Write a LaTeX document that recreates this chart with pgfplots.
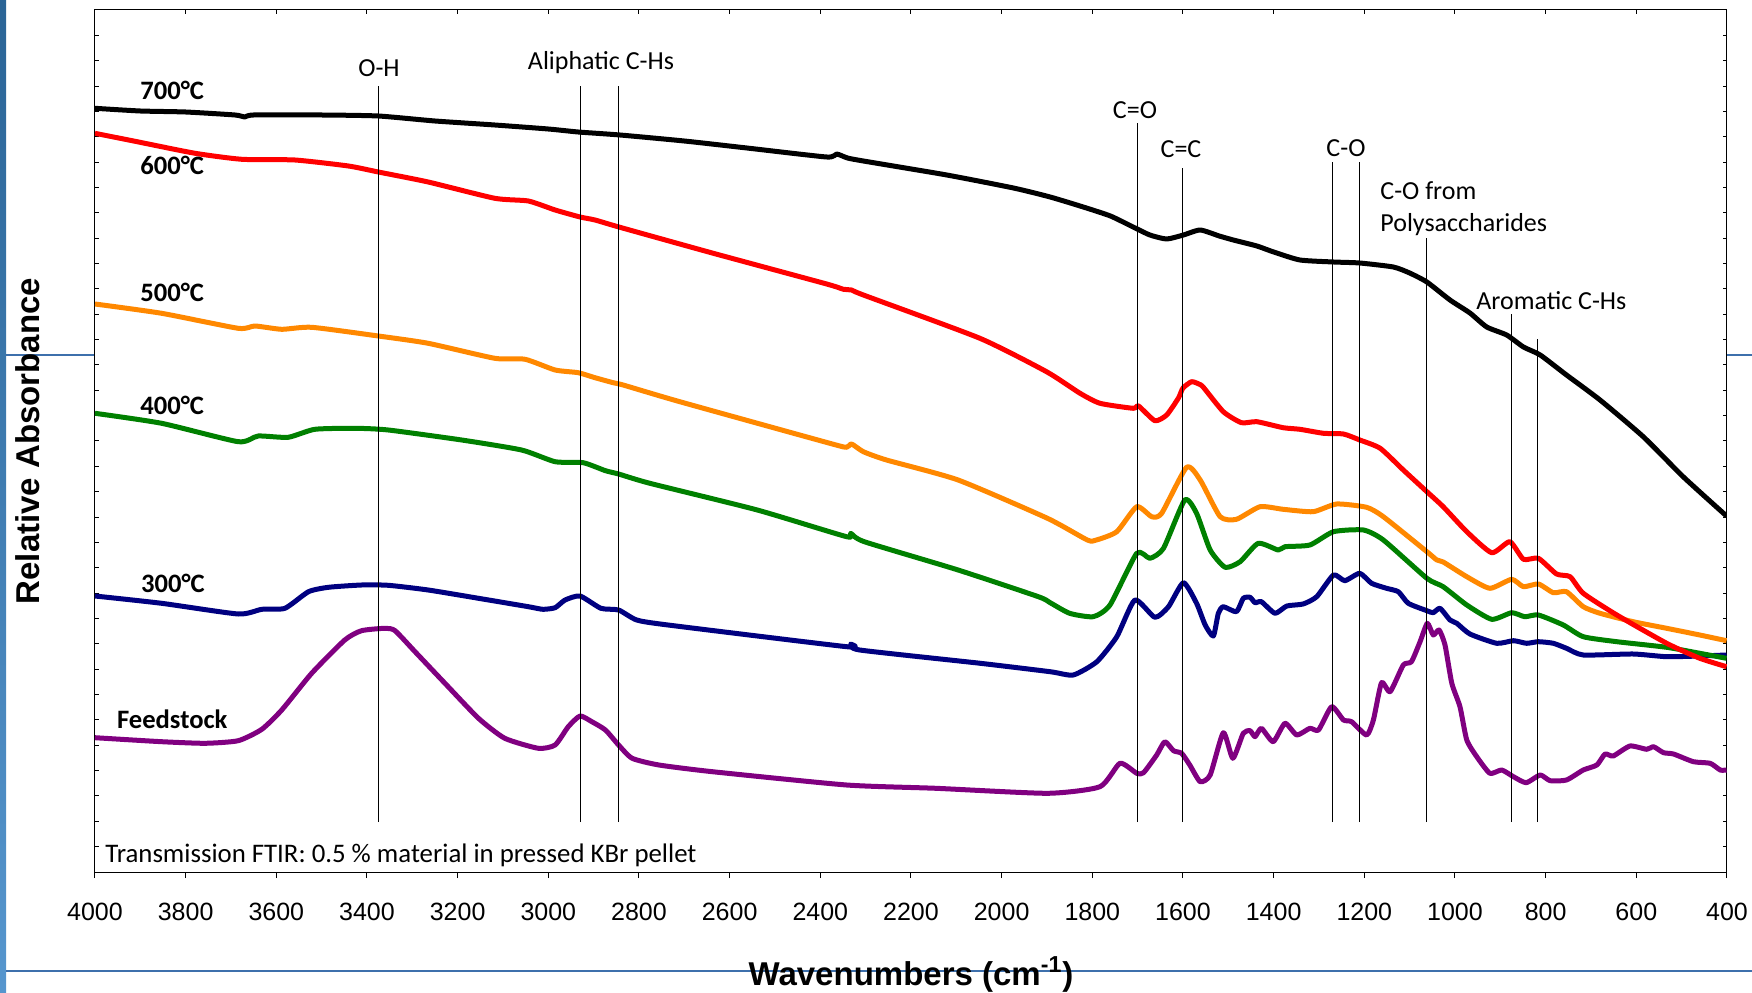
\documentclass[border=0pt]{standalone}
\usepackage{pgfplots}
\pgfplotsset{compat=1.18}
\usepackage{fontspec}
\setmainfont{Carlito}
\newfontfamily\arial{Liberation Sans}
\definecolor{slideblue}{RGB}{62,112,172}
\definecolor{barTop}{RGB}{42,100,150}
\definecolor{barBot}{RGB}{86,150,206}
\definecolor{c700}{RGB}{0,0,0}
\definecolor{c600}{RGB}{255,0,0}
\definecolor{c500}{RGB}{255,136,0}
\definecolor{c400}{RGB}{0,128,0}
\definecolor{c300}{RGB}{0,0,128}
\definecolor{cfeed}{RGB}{128,0,128}
\begin{document}
\begin{tikzpicture}
\useasboundingbox (0,0) rectangle (876pt,496pt);
% slide decoration (pixel coordinates)
\begin{scope}[x=0.5pt,y=-0.5pt,shift={(0pt,496pt)}]
  \shade[top color=barTop, bottom color=barBot] (0,0) rectangle (6,992);
  \draw[slideblue, line width=0.6pt] (6,355) -- (95,355);
  \draw[slideblue, line width=0.6pt] (1727,355) -- (1752,355);
  \draw[slideblue, line width=0.6pt] (6,971) -- (1752,971);
\end{scope}

% tick overlay axis (top x ticks and y ticks, inside)
\begin{axis}[at={(47.5pt,60pt)}, anchor=south west, width=816pt, height=431pt, scale only axis,
  xmin=400, xmax=4000, x dir=reverse, ymin=0, ymax=862,
  axis line style={draw=none},
  xtick={400,600,...,4000}, xtick pos=top, xticklabels={},
  ytick={0,25.353,...,863}, yticklabels={}, ytick pos=both,
  tick align=inside, major tick length=2pt, tick style={black, line width=0.5pt}]
\end{axis}

\begin{axis}[at={(47.5pt,60pt)}, anchor=south west, width=816pt, height=431pt, scale only axis,
  xmin=400, xmax=4000, x dir=reverse, ymin=0, ymax=862,
  axis line style={black, line width=0.5pt},
  xtick={400,600,...,4000}, xtick pos=bottom, ytick=\empty,
  tick align=outside, major tick length=3pt, tick style={black, line width=0.5pt},
  /pgf/number format/assume math mode=true,
  /pgf/number format/1000 sep={},
  xticklabel style={font=\arial\fontsize{12.5}{14}\selectfont, anchor=north, inner sep=0pt, text height=9pt, text depth=0pt, yshift=-12pt},
  xlabel={\textbf{Wavenumbers (cm\textsuperscript{-1})}},
  xlabel style={font=\arial\fontsize{16.5}{19}\selectfont, at={(axis description cs:0.5,-0.1311)}, anchor=base},
  ylabel={\textbf{Relative Absorbance}},
  ylabel style={font=\arial\fontsize{16.5}{19}\selectfont, at={(axis description cs:-0.0414,0.5)}, anchor=center, rotate=0},
  spec/.style={line width=2.5pt, line join=round, smooth, tension=0.35},
]
% Feedstock
\addplot[cfeed, spec] coordinates {
(4000,134.3) (3853,130.3) (3757,128.7) (3684,131.3) (3632,142.7) (3588,162) (3522,198.7)
(3449,232) (3412,241.3) (3360,243.7) (3338,241.3) (3294,220.3) (3228,188.7) (3154,153.7)
(3096,133.7) (3022,123.7) (2985,127) (2956,145.3) (2930,156) (2904,150.3) (2874,142)
(2845,127) (2815,113.7) (2756,107) (2638,100.3) (2342,87) (2145,83.7) (1899,78.7)
(1783,85.3) (1739,108.7) (1702,98.7) (1687,99.3) (1658,117) (1640,130.3) (1621,121.3)
(1603,118.7) (1585,107) (1562,90.3) (1540,97) (1511,139.3) (1490,113.7) (1467,138.7)
(1452,141.3) (1441,135.3) (1427,143.7) (1401,130.3) (1375,148.7) (1349,137) (1320,143.7)
(1301,142) (1272,165.3) (1246,152) (1228,150.3) (1195,137) (1180,152) (1162,189.3)
(1143,180.3) (1114,207) (1096,210.3) (1077,230.3) (1061,248.7) (1048,237) (1035,242)
(1022,227) (1007,188.7) (989,165.3) (974,132) (952,115.3) (923,98.7) (897,102) (871,95.3)
(843,89.3) (812,97) (790,91.3) (754,92) (717,102) (687,107) (669,118) (651,116) (614,126)
(577,122.7) (562,125.3) (540,119.3) (518,118) (474,110.3) (437,108.7) (415,102) (401,102)
};
% 300 C
\addplot[c300, spec] coordinates {
(4000,276) (3853,268.7) (3684,258) (3632,262.7) (3581,263.7) (3529,280.3) (3485,284.7)
(3412,287) (3353,286.7) (3265,282) (3154,273.7) (3044,265.3) (3012,262.7) (2985,264.3)
(2963,272) (2930,276) (2884,263.7) (2845,262) (2805,252) (2736,247) (2342,225.3)
(2333,228) (2313,222) (2047,208.7) (1893,200.3) (1842,197) (1790,210.3) (1746,235.3)
(1706,272) (1662,254.7) (1632,265.3) (1599,289.3) (1570,268.7) (1551,247) (1533,236)
(1522,258.7) (1511,265.3) (1482,260.3) (1467,273.7) (1452,274.7) (1441,269.3) (1427,270.3)
(1397,258.7) (1371,266) (1335,268) (1305,275.3) (1268,297) (1243,291.3) (1210,298.7)
(1184,288.7) (1151,283.7) (1125,280.3) (1103,268.7) (1062,261.3) (1048,259.3) (1033,263.7)
(1011,252) (996,248.7) (967,238) (908,228.7) (871,231.3) (842,228.7) (816,230.3) (783,228.7)
(754,223.7) (717,217) (607,218) (533,215.3) (460,216) (401,217)
};
% 400 C
\addplot[c400, spec] coordinates {
(4000,458.7) (3853,448.7) (3684,430.3) (3640,436) (3574,434.7) (3515,442.7) (3426,443.7)
(3353,442) (3191,432) (3059,422) (2985,410.3) (2923,409.3) (2874,401.3) (2845,398)
(2776,388.7) (2539,362) (2342,335.3) (2333,338.7) (2303,330.3) (2096,302) (1919,275.3)
(1893,269.3) (1850,258.7) (1798,255.3) (1761,267) (1702,318.7) (1673,313.7) (1643,323.7)
(1596,372) (1570,358.7) (1540,322) (1507,304.7) (1474,310.3) (1434,328.7) (1390,322)
(1375,325.3) (1320,327) (1268,340.3) (1202,342) (1158,332) (1062,293.7) (1026,285.3)
(974,267) (919,252.7) (875,259.3) (846,255.3) (816,257) (761,247) (717,235.3) (643,230.3)
(533,224.7) (460,218.7) (401,213.7)
};
% 500 C
\addplot[c500, spec] coordinates {
(4000,568) (3853,558.7) (3684,543.7) (3647,546) (3588,542.7) (3522,544.7) (3375,536)
(3265,528.7) (3118,513.7) (3051,512.7) (2985,502) (2934,499.3) (2897,494.3) (2857,489.3)
(2835,487) (2710,470.3) (2379,428.7) (2342,424.7) (2331,428) (2305,420.3) (2254,412)
(2096,392) (1899,353.7) (1811,332) (1791,332) (1746,340.3) (1702,365.3) (1669,355.3)
(1647,358.7) (1592,404.7) (1562,392) (1518,355.3) (1482,352.7) (1430,365.3) (1379,362.7)
(1313,360.3) (1261,368) (1195,364.7) (1158,355.3) (1062,320.3) (1040,312) (1026,310)
(974,295.3) (923,283.7) (875,292.7) (849,285.3) (816,288) (783,279.3) (754,280.3)
(717,265.3) (680,258.7) (607,250.3) (533,243.7) (460,237) (401,231.3)
};
% 600 C
\addplot[c600, spec] coordinates {
(4000,738.7) (3904,730) (3779,718.7) (3676,712.7) (3559,712) (3441,706) (3375,700)
(3265,690) (3118,673.7) (3044,671) (2985,662) (2930,655) (2897,652) (2842,644.7)
(2636,618.7) (2386,588) (2349,582.7) (2331,582) (2305,577) (2048,533.7) (1901,500.3)
(1827,478.7) (1783,468.7) (1710,463.7) (1698,466) (1662,451.3) (1636,457) (1610,474)
(1600,484) (1581,490.3) (1565,488) (1555,484.7) (1511,460.3) (1471,449.3) (1437,450.3)
(1379,444.3) (1342,442.7) (1290,438.7) (1246,438) (1210,432) (1165,423.7) (1114,402)
(1062,380.3) (1026,365.3) (974,340.3) (919,319.3) (879,330.3) (849,312.7) (816,313.7)
(776,298) (746,295.3) (717,278.7) (643,257) (533,228.7) (460,213.7) (401,205.3)
};
% 700 C
\addplot[c700, spec] coordinates {
(4000,763.7) (3900,761) (3800,760) (3691,757) (3670,755) (3650,757) (3500,757)
(3375,756) (3250,751) (3118,747) (3000,743) (2934,740) (2842,737) (2700,731) (2562,724)
(2386,715) (2364,718) (2340,714) (2305,711) (2121,697) (1974,684) (1893,675) (1820,665)
(1760,656) (1710,645) (1673,637) (1636,633) (1599,637) (1562,642) (1520,636) (1489,632)
(1437,626) (1400,620) (1342,612) (1268,610) (1210,609) (1136,605) (1100,599) (1062,590)
(1011,572) (967,559) (930,545) (886,537) (849,525) (812,517) (754,497) (680,472)
(584,435) (496,395) (401,356)
};
% band marker lines
\draw[black, line width=0.5pt] (axis cs:3375,50) -- (axis cs:3375,786);
\draw[black, line width=0.5pt] (axis cs:2930,50) -- (axis cs:2930,786);
\draw[black, line width=0.5pt] (axis cs:2846,50) -- (axis cs:2846,786);
\draw[black, line width=0.5pt] (axis cs:1701,50) -- (axis cs:1701,749);
\draw[black, line width=0.5pt] (axis cs:1601,50) -- (axis cs:1601,704);
\draw[black, line width=0.5pt] (axis cs:1270,50) -- (axis cs:1270,710);
\draw[black, line width=0.5pt] (axis cs:1210,50) -- (axis cs:1210,710);
\draw[black, line width=0.5pt] (axis cs:1062,50) -- (axis cs:1062,634);
\draw[black, line width=0.5pt] (axis cs:875,50) -- (axis cs:875,558);
\draw[black, line width=0.5pt] (axis cs:817,50) -- (axis cs:817,533);
\end{axis}

% text annotations (pixel coordinates)
\begin{scope}[x=0.5pt,y=-0.5pt,shift={(0pt,496pt)}]
  \begin{scope}[every node/.style={inner sep=0pt, font=\fontsize{13}{15}\selectfont}]
    \node[anchor=base] at (379,76.7) {O-H};
    \node[anchor=base] at (601,70) {Aliphatic C-Hs};
    \node[anchor=base] at (1135,118.3) {C=O};
    \node[anchor=base] at (1181,157.3) {C=C};
    \node[anchor=base] at (1346,156.7) {C-O};
    \node[anchor=base west] at (1380,200) {C-O from};
    \node[anchor=base west] at (1380,231.7) {Polysaccharides};
    \node[anchor=base west] at (1476,309.3) {Aromatic C-Hs};
  \end{scope}
  \begin{scope}[every node/.style={inner sep=0pt, font=\bfseries\fontsize{13.3}{15}\selectfont}]
    \node[anchor=base west] at (140,100) {700°C};
    \node[anchor=base west] at (140,175) {600°C};
    \node[anchor=base west] at (140,301.7) {500°C};
    \node[anchor=base west] at (140,415) {400°C};
    \node[anchor=base west] at (140.7,592.7) {300°C};
    \node[anchor=base west] at (116.7,728.3) {Feedstock};
  \end{scope}
  \node[anchor=base west, inner sep=0pt, font=\fontsize{13.4}{15}\selectfont] at (105,862.7) {Transmission FTIR: 0.5 \% material in pressed KBr pellet};
\end{scope}
\end{tikzpicture}
\end{document}
